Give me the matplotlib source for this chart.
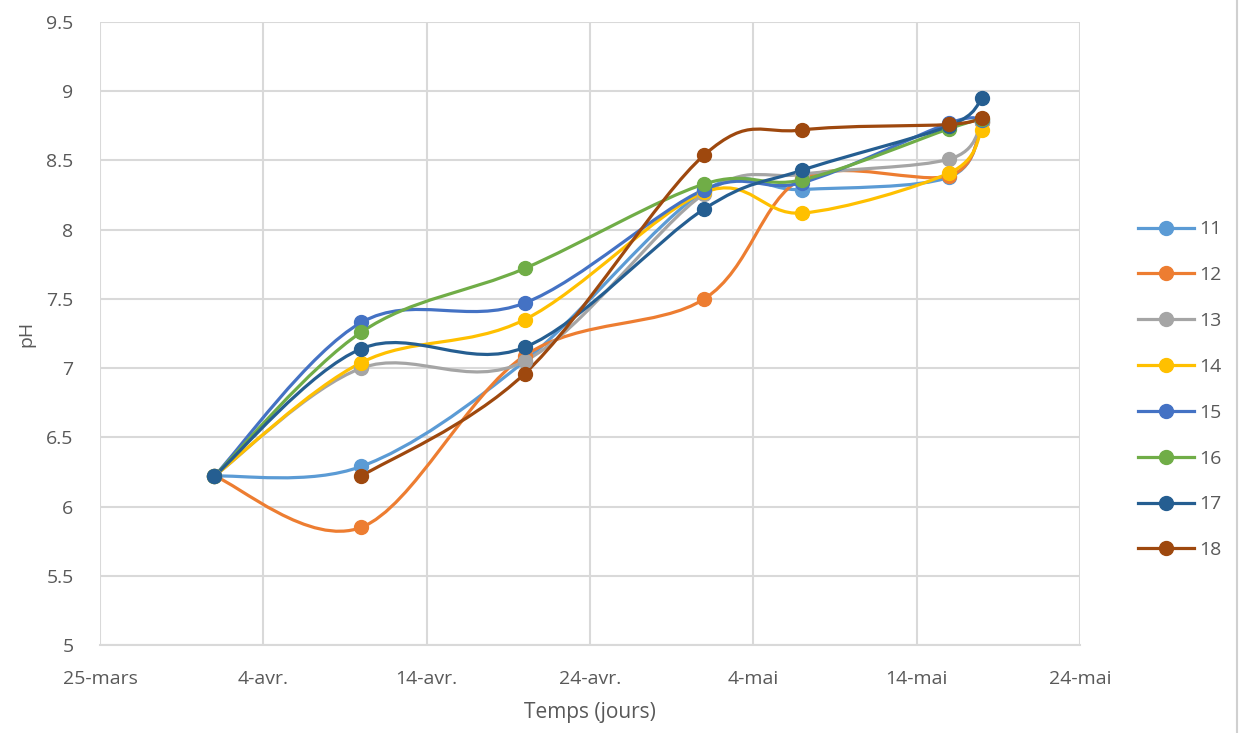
import datetime as dt
import numpy as np
import matplotlib
matplotlib.use("Agg")
import matplotlib.pyplot as plt
import matplotlib.dates as mdates
from matplotlib.path import Path
from matplotlib.patches import PathPatch
from matplotlib.lines import Line2D

# Sampling dates
dates = [dt.date(2021, 4, 1), dt.date(2021, 4, 10), dt.date(2021, 4, 20),
         dt.date(2021, 5, 1), dt.date(2021, 5, 7), dt.date(2021, 5, 16),
         dt.date(2021, 5, 18)]
# Series 18 was first measured on 10 April
dates_18 = dates[1:]

series_names = ["11", "12", "13", "14", "15", "16", "17", "18"]
ph_11 = [6.22, 6.29, 7.05, 8.28, 8.29, 8.38, 8.78]
ph_12 = [6.22, 5.85, 7.09, 7.50, 8.37, 8.39, 8.78]
ph_13 = [6.22, 7.00, 7.05, 8.26, 8.40, 8.51, 8.78]
ph_14 = [6.22, 7.04, 7.35, 8.27, 8.12, 8.41, 8.72]
ph_15 = [6.22, 7.33, 7.47, 8.29, 8.34, 8.77, 8.79]
ph_16 = [6.22, 7.26, 7.72, 8.33, 8.36, 8.73, 8.80]
ph_17 = [6.22, 7.14, 7.15, 8.15, 8.43, 8.75, 8.95]
ph_18 = [6.22, 6.96, 8.54, 8.72, 8.76, 8.81]
all_series = [ph_11, ph_12, ph_13, ph_14, ph_15, ph_16, ph_17, ph_18]
all_dates = [dates] * 7 + [dates_18]

colors = ["#5B9BD5", "#ED7D31", "#A5A5A5", "#FFC000",
          "#4472C4", "#70AD47", "#255E91", "#9E480E"]

tick_dates = [dt.date(2021, 3, 25), dt.date(2021, 4, 4), dt.date(2021, 4, 14),
              dt.date(2021, 4, 24), dt.date(2021, 5, 4), dt.date(2021, 5, 14),
              dt.date(2021, 5, 24)]
tick_labels = ["25-mars", "4-avr.", "14-avr.", "24-avr.", "4-mai", "14-mai", "24-mai"]
y_ticks = [5, 5.5, 6, 6.5, 7, 7.5, 8, 8.5, 9, 9.5]
y_tick_labels = ["5", "5.5", "6", "6.5", "7", "7.5", "8", "8.5", "9", "9.5"]

plt.rcParams["font.family"] = ["Open Sans", "DejaVu Sans"]
text_color = "#595959"
grid_color = "#D9D9D9"


def smooth_path(x, y):
    """Cubic Bezier curve through the points (Catmull-Rom style control points)."""
    pts = np.column_stack([x, y]).astype(float)
    n = len(pts)
    verts = [pts[0]]
    codes = [Path.MOVETO]
    for i in range(n - 1):
        p0 = pts[i - 1] if i > 0 else pts[i]
        p1 = pts[i]
        p2 = pts[i + 1]
        p3 = pts[i + 2] if i + 2 < n else pts[i + 1]
        c1 = p1 + (p2 - p0) / 6.0
        c2 = p2 - (p3 - p1) / 6.0
        verts += [c1, c2, p2]
        codes += [Path.CURVE4] * 3
    return Path(verts, codes)


fig = plt.figure(figsize=(12.42, 7.33), dpi=100)
ax = fig.add_axes([100 / 1242, 1 - 645 / 733, 980 / 1242, 623 / 733])

for d, vals, col in zip(all_dates, all_series, colors):
    xnum = mdates.date2num(d)
    patch = PathPatch(smooth_path(xnum, vals), facecolor="none", edgecolor=col,
                      lw=2.3, capstyle="round", joinstyle="round")
    ax.add_patch(patch)
    ax.plot(xnum, vals, linestyle="none", marker="o", markersize=10,
            color=col, markeredgecolor=col)

tnum = mdates.date2num(tick_dates)
ax.set_xlim(tnum[0], tnum[-1])
ax.set_ylim(5, 9.5)
ax.set_xticks(tnum)
ax.set_xticklabels(tick_labels)
ax.set_yticks(y_ticks)
ax.set_yticklabels(y_tick_labels)
ax.grid(True, color=grid_color, lw=1.5)
ax.set_axisbelow(True)
for side in ["top", "right", "left"]:
    ax.spines[side].set_visible(False)
ax.spines["bottom"].set_color(grid_color)
ax.spines["bottom"].set_linewidth(1.5)
ax.tick_params(axis="both", length=0, labelsize=14, colors=text_color)
ax.tick_params(axis="x", pad=18)
ax.tick_params(axis="y", pad=19)
ax.set_xlabel("Temps (jours)", fontsize=15, color=text_color, labelpad=10)
ax.set_ylabel("pH", fontsize=14, color=text_color, labelpad=8)

handles = [Line2D([0], [0], color=c, lw=2.3, marker="o", markersize=10)
           for c in colors]
fig.legend(handles, series_names, loc="upper left",
           bbox_to_anchor=(1120 / 1242, 1 - 203 / 733), frameon=False,
           fontsize=14, labelcolor=text_color, handlelength=2.9,
           labelspacing=1.43, handletextpad=0.25)

fig.add_artist(Line2D([1237 / 1242, 1237 / 1242], [0, 1], color="#D0D0D0", lw=1.5))

fig.savefig("out.png", dpi=100, facecolor="white")
